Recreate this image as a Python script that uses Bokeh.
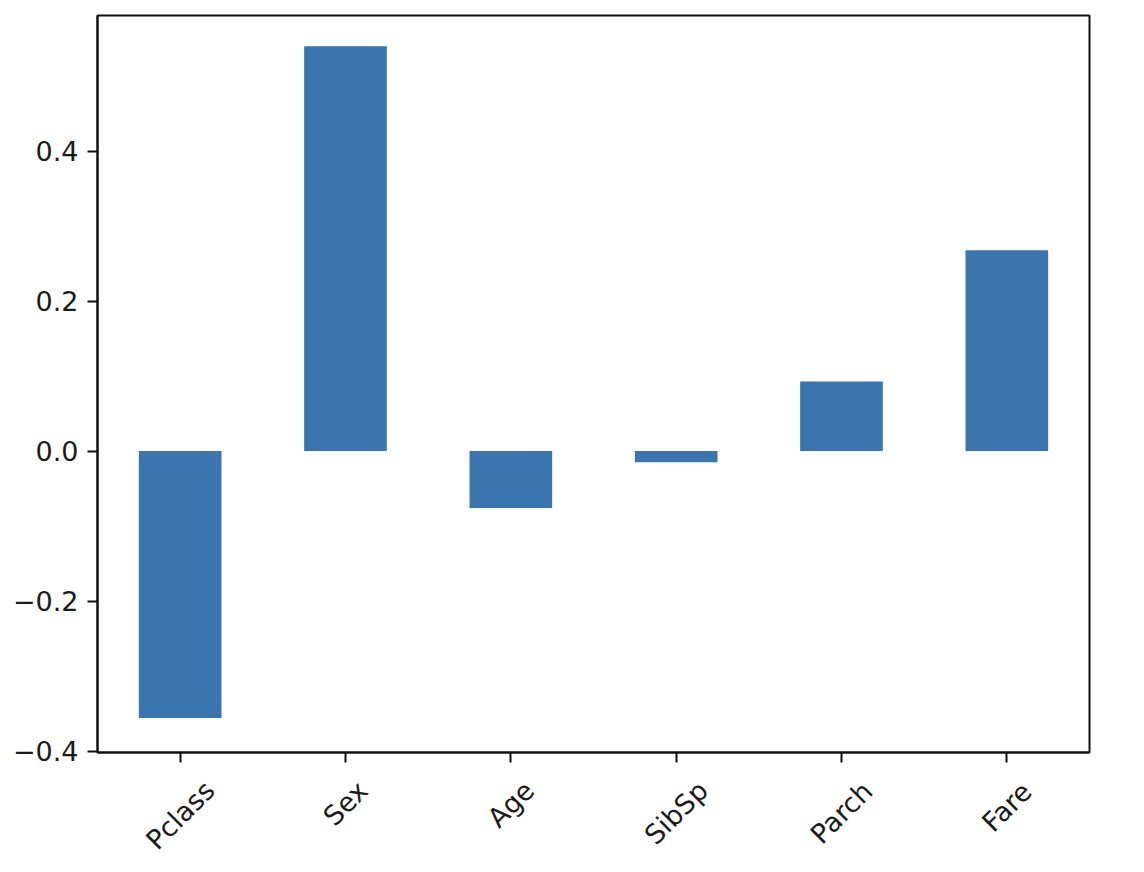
import math
from bokeh.plotting import figure
from bokeh.layouts import column
from bokeh.models import (ColumnDataSource, FactorRange, Range1d, FixedTicker,
                          CustomJSTickFormatter)
from bokeh.core.properties import value
from bokeh.embed import file_html
from bokeh.resources import INLINE

categories = ["Pclass", "Sex", "Age", "SibSp", "Parch", "Fare"]
values = [-0.356, 0.540, -0.076, -0.015, 0.093, 0.268]
y_ticks = [-0.4, -0.2, 0.0, 0.2, 0.4]

W = 1136
FL, FT, FR, FB = 97, 15, 1089, 752
H1 = 766            # main figure height (frame + x ticks)
H2 = 104            # strip below holding the rotated category labels
TICK = 10
Y0, Y1 = -0.402, 0.581
FONT = "DejaVu Sans"
FS = 27
INK = "#111111"

# approximate DejaVu Sans advance widths (em) to centre rotated labels like matplotlib
EM = {"P": .603, "c": .550, "l": .278, "a": .613, "s": .521, "S": .635, "e": .615,
      "x": .592, "A": .684, "g": .635, "i": .278, "b": .635, "p": .635, "r": .411,
      "h": .634, "F": .575}
label_y = []
for c in categories:
    w = sum(EM.get(ch, 0.6) for ch in c) * FS
    label_y.append(785.2 + 0.3535 * w)   # page pixel of the label centre

source = ColumnDataSource(data=dict(cat=categories, val=values))
lab_src = ColumnDataSource(data=dict(cat=categories, y=label_y))

xr = FactorRange(*categories, range_padding=0)
p = figure(width=W, height=H1, x_range=xr, y_range=Range1d(Y0, Y1),
           output_backend="svg", toolbar_location=None,
           min_border_left=FL, min_border_top=FT,
           min_border_right=W - FR, min_border_bottom=H1 - FB)
p.vbar(x="cat", top="val", bottom=0, width=0.5, source=source,
       fill_color="#3a75af", line_color=None)

p.xgrid.grid_line_color = None
p.ygrid.grid_line_color = None
p.outline_line_color = INK
p.outline_line_width = 2
p.outline_line_alpha = 1.0

for ax in (p.xaxis[0], p.yaxis[0]):
    ax.axis_line_color = INK
    ax.axis_line_width = 2
    ax.major_tick_line_width = 2
    ax.major_tick_line_color = INK
    ax.major_tick_in = 0
    ax.major_tick_out = TICK
    ax.minor_tick_line_color = None
    ax.major_label_text_font = FONT
    ax.major_label_text_font_size = f"{FS}px"
    ax.major_label_text_color = "#1a1a1a"
    ax.major_label_standoff = 9

ya = p.yaxis[0]
ya.ticker = FixedTicker(ticks=y_ticks)
ya.formatter = CustomJSTickFormatter(
    code="return (tick < -1e-9 ? '\u2212' : '') + Math.abs(tick).toFixed(1);")

# x axis keeps only its line and ticks; its labels are drawn centred in the strip below
xa = p.xaxis[0]
xa.major_label_text_color = None
xa.major_label_text_font_size = "1px"
xa.major_label_standoff = 0

q = figure(width=W, height=H2, x_range=xr, y_range=Range1d(H1 + H2, H1),
           output_backend="svg", toolbar_location=None,
           x_axis_location=None, y_axis_location=None,
           min_border_left=FL, min_border_right=W - FR,
           min_border_top=0, min_border_bottom=0)
q.outline_line_color = None
q.xgrid.grid_line_color = None
q.ygrid.grid_line_color = None
q.text(x="cat", y="y", text="cat", source=lab_src, angle=math.pi / 4,
       text_align="center", text_baseline="middle",
       text_font=value(FONT), text_font_size=value(f"{FS}px"), text_color="#1a1a1a")

layout = column(p, q, spacing=0)
open("out.html", "w").write(file_html(layout, INLINE))
